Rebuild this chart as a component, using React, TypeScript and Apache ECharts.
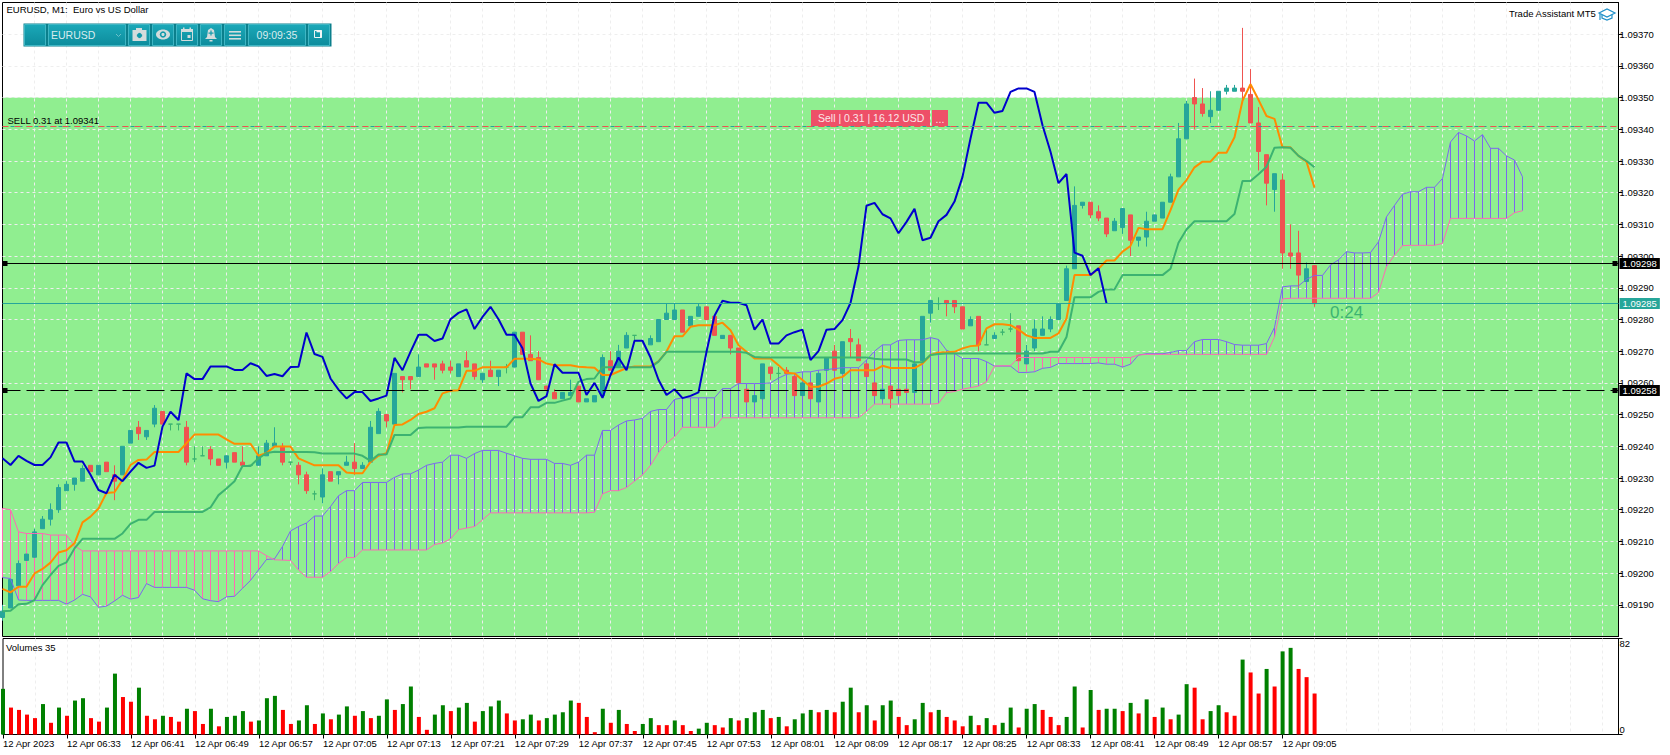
import React, { useEffect, useRef } from "react";
import * as echarts from "echarts";

// All prices are written in points above 1.09000 (1 point = 0.00001).
const tickLabels = [
  "12 Apr 2023", "12 Apr 06:33", "12 Apr 06:41", "12 Apr 06:49", "12 Apr 06:57", "12 Apr 07:05", "12 Apr 07:13",
  "12 Apr 07:21", "12 Apr 07:29", "12 Apr 07:37", "12 Apr 07:45", "12 Apr 07:53", "12 Apr 08:01", "12 Apr 08:09",
  "12 Apr 08:17", "12 Apr 08:25", "12 Apr 08:33", "12 Apr 08:41", "12 Apr 08:49", "12 Apr 08:57", "12 Apr 09:05",
];

const openPts = [
  186,189,196,204,205,214,217,220,226,228,
  229,234,231,235,231,231,241,246,243,247,
  251,247,247,246,236,237,239,236,235,238,
  235,234,234,237,240,240,235,234,231,225,
  224,232,231,234,235,233,235,244,250,247,
  262,262,262,266,266,266,265,262,267,266,
  261,264,262,265,265,276,269,268,259,257,
  255,256,259,254,254,256,267,265,271,275,
  265,272,273,280,280,283,278,281,284,281,
  274,275,271,258,254,255,265,263,264,262,
  256,260,254,264,270,263,274,272,266,260,
  255,259,258,258,257,267,282,285,286,286,
  284,278,281,272,274,276,277,278,266,271,
  275,277,280,286,296,316,317,314,312,308,
  309,313,305,306,311,312,317,325,337,350,
  348,344,346,352,352,353,351,342,332,321,
  324,301,301,292,297,
];
const closePts = [
  188,198,203,206,213,217,220,227,228,230,
  233,232,234,232,229,240,245,244,245,252,
  247,247,247,235,236,237,236,234,237,235,
  234,234,237,241,241,235,235,231,226,225,
  231,229,232,235,233,234,246,251,248,263,
  261,261,265,265,265,264,264,266,265,262,
  263,262,264,265,276,269,267,261,258,255,
  257,257,254,255,256,268,264,270,275,275,
  265,274,280,282,283,276,281,284,280,275,
  275,271,260,254,256,266,263,263,263,256,
  260,255,263,268,264,273,273,267,262,256,
  258,255,256,257,266,281,286,285,285,284,
  277,280,272,272,275,276,277,267,270,277,
  277,280,285,296,316,317,313,312,307,311,
  315,305,306,311,313,317,325,337,348,348,
  345,346,352,353,353,352,342,333,323,326,
  301,300,294,296,285,
];
const lowPts = [
  185,189,196,204,205,214,215,219,226,226,
  229,232,231,232,223,231,241,242,242,246,
  247,245,245,234,235,237,234,234,233,235,
  234,234,234,237,240,234,234,228,225,223,
  222,229,228,234,231,233,235,244,246,247,
  257,258,262,265,261,263,263,262,265,261,
  260,262,259,263,265,269,267,261,258,255,
  255,256,254,254,254,256,264,265,271,273,
  265,272,273,280,280,276,278,281,280,275,
  274,269,260,254,254,255,261,261,263,256,
  256,255,254,264,264,263,268,267,262,256,
  255,252,256,257,257,267,279,283,281,282,
  277,278,270,272,274,275,276,267,266,270,
  275,276,280,286,296,315,312,311,306,308,
  307,300,303,303,311,312,317,325,337,340,
  344,342,346,351,352,349,342,327,316,314,
  296,296,290,292,284,
];
const highPts = [
  190,198,204,206,214,218,222,228,229,230,
  234,234,234,235,234,240,245,248,245,253,
  251,247,247,248,240,240,240,236,237,238,
  240,234,240,242,246,241,235,235,232,226,
  233,232,232,237,241,235,248,252,250,263,
  262,262,269,266,266,267,267,266,270,266,
  263,267,264,266,276,276,275,270,259,258,
  257,261,259,255,256,269,270,272,276,275,
  265,275,280,285,285,283,281,285,284,281,
  275,275,271,258,256,266,265,265,265,262,
  260,260,263,268,272,273,277,274,266,260,
  258,259,258,258,266,281,286,287,286,286,
  284,281,281,277,276,277,282,278,272,280,
  281,281,285,297,322,317,317,316,312,312,
  315,313,306,314,313,317,326,342,349,356,
  353,352,352,354,354,372,359,347,332,326,
  326,310,308,298,297,
];
const tenkanPts = [
  195,193.9,195.7,195.7,199.9,201.3,203.3,206.5,207.2,209.4,
  216,217.8,220.4,225.3,225.5,229.4,234.1,235.7,235.8,238.2,
  238.2,238.2,238.2,241,243.7,243.7,243.7,243.7,242.2,240.8,
  240.8,240.8,237,237.9,239.9,239.9,239.9,236.2,235.1,234,
  234,234,234,231.7,231.5,231.5,235.1,237,237.8,246.7,
  246.9,248.3,250.2,250.9,252,256.7,257.5,257.7,263.8,263.8,
  264.9,264.9,264.9,264.9,267.6,267.6,267.6,267.4,266.1,265.6,
  265.6,265.6,265.1,264.9,264.8,262.5,262.5,263.6,264.7,265.2,
  265.2,265.2,266.8,269.9,274.7,274.7,277.7,278.2,278.2,278.2,
  279,276.6,271.9,269.8,267.7,267.7,267.7,265.6,263.2,263,
  260.9,258.8,258.8,259.8,261.3,261.9,264,264,264,264,
  265.4,264.7,264.7,264.7,264.7,266.1,268.8,269.6,269.7,269.8,
  270.9,271.6,271.8,277.2,278.5,278.5,278.2,276.8,275,274.2,
  274.2,274.2,275.6,280.3,294,294,294,296,298.6,298.6,
  301.4,303.2,308.9,308.5,308.5,308.5,314.5,321,324,328,
  329.8,329.8,332.6,332.6,337.5,349,354.2,349.3,344.2,343.3,
  334.3,334.3,331.6,329.8,321.6,
];
const kijunPts = [
  188,188.1,190.2,190.3,191.5,196.2,199.4,202.3,203.4,207.8,
  210.8,210.8,210.8,210.8,210.8,212.5,215.5,216.8,216.8,219.3,
  219.3,219.3,219.3,219.3,219.3,219.3,220.7,224.6,226.7,229,
  233.8,233.8,236.2,237.9,238.3,238.2,238.2,238.2,238.2,238.1,
  237.7,237.7,237.7,237.7,237.7,237,235.4,237.4,237.4,243.6,
  243.6,243.6,245.8,245.9,245.9,245.9,245.9,245.9,246.2,246.2,
  246.2,246.2,246.2,246.2,249.2,249.2,252.3,252.3,253.7,253.7,
  254.4,255.1,260.4,261.2,261.4,264.9,264.9,264.9,264.9,264.9,
  264.9,264.9,266.7,269.8,269.8,269.8,269.8,269.8,269.8,269.8,
  269.8,269.8,269.8,269.5,268.2,268,268,268,268,268,
  268,268,268,268,268,268,268,268,268,267.6,
  267.4,267.4,267.4,267.4,266.5,266.5,268.8,269.1,269.3,269.3,
  269.3,269.3,269.3,269.3,269.3,269.3,269.3,269.3,269.3,269.3,
  269.3,269.8,269.8,274.5,287,287,287,288.7,289.5,289.5,
  294,294,294,294,294,294,296,304.2,308.4,311,
  311,311,311,311,313.3,323.7,323.7,325.8,328.2,334.2,
  334.3,334.2,331.6,330,328,
];
const chikouPts = [
  236.2,234.1,237,235.4,234.1,234.1,236.5,241.2,241.2,235.2,
  235.2,231,226.2,225.2,231,229,232,234.8,233.2,233.9,
  246.2,250.9,248.3,263,261.2,261.2,265.2,265.2,265.2,264.1,
  264.1,266.2,265.2,262.2,262.8,262.1,265,265.1,275.9,269.1,
  268.2,261.4,257.9,255.1,257.1,257.1,254.3,255.1,256,267.9,
  264,269.8,275.2,275.2,273.2,274,280.1,282.1,283.2,277,
  280.8,284,280.1,275.2,275.2,270.9,259.8,254.3,255.8,265.9,
  263.2,263.2,263.2,256.2,260,255.3,262.5,268,264,273.3,
  273.3,268,261,256.2,258,255.2,255.9,257,269.8,281.2,
  285.9,285.3,285.3,284.5,276.8,280,272.4,272.4,275,276,
  276.8,267.2,270,276.8,277,279.8,285.2,296.7,315.9,316.8,
  313.2,311.9,307.2,310.8,314.9,305,305.8,311,313,317.2,
  325,337.1,348.4,348.4,345.2,345.8,351.8,352.9,352.9,351.8,
  341.3,332.9,323,325.9,301.1,300.1,294,296.2,285.1,
];
const senkouAPts = [
  198.6,198.3,191.5,191.4,191.4,191.4,191.4,191.4,190.2,191.5,
  193.3,192.5,189.2,189.6,191.2,193,191.8,192.3,196.7,195.5,
  195.5,195.5,195.5,195.5,194.6,191.9,191.3,191,192.5,192.7,
  195.2,197.7,201,204.3,204.5,208.4,213.3,214.7,215.8,218,
  218,221,224.4,226,226,228.6,228.6,228.6,228.6,230.2,
  231.3,231.3,232.5,234,234.6,235,237.2,237.2,236.2,237.7,
  238.7,238.7,238.7,237.8,237,236.2,235.9,235.9,235.9,234.6,
  234.6,234,235,237.2,237.2,245,245,246.7,248,248.3,
  248.8,251,251.6,251.6,254.8,255.3,255.3,255.3,255.3,255.3,
  258.2,258.2,259.8,259.8,259.8,259.8,260,261.5,262.7,263,
  263.5,263.5,264,264.2,264.5,264.8,264.8,264.8,267.2,270,
  272,272,273.4,273.6,273.6,273.6,274.3,273.7,270.3,269.3,
  267.7,267.7,267.7,266.7,265.3,265.3,265.3,263.3,263.3,263.5,
  264.6,264.9,266.1,266.1,266.1,266.1,266.1,266.3,265.9,265.9,
  265,265.9,268.8,269.2,269.2,269.2,269.6,270.2,270.2,273,
  273.7,273.7,273.7,273,272.1,271.9,271.9,271.9,272.4,277.5,
  290.3,290.6,290.6,292.7,293.9,293.9,297.2,298.8,301.4,301,
  301,301.1,304.5,312.4,316,319.5,320.3,320.3,321.7,321.7,
  324.5,336,339,337.9,336.3,338.3,334,334,331.6,330.3,
  325,
];
const senkouBPts = [
  220.4,220,213,212.5,212.5,212.5,212,212,212,208.6,
  207,207,207,207,207,207,207,207,207,207,
  207,207,207,207,207,207,207,207,207,207,
  207,207,207,205.5,204.2,204.1,204,201,198.7,198.7,
  198.7,200.5,203,204.9,204.9,207.3,207.3,207.3,207.3,207.3,
  207.3,207.3,207.3,207.3,209,209.5,210.8,213.7,214.2,214.7,
  216.8,219,219,219,219,219,219,219,219,219,
  219,219,219,219,219.2,225,226,226,227,229,
  231,234,238,241,243,246,246,246,246,246,
  249,249,249,249,249,249,249,249,249,249,
  249,249,249,249,249,249,249,249,251,253.3,
  253.3,253.3,253.3,253.3,253.3,253.3,253.3,253.5,256.9,257.3,
  258,258.5,259,260.4,265.3,265.4,265.4,268,268,268,
  268,268,268,268,268,268,268,268,268,268,
  268,268,268.8,269,269,269,269,269,269,269,
  269,269,269,269,269,269,269,269,269,274.5,
  286.5,286.7,286.7,286.7,286.7,286.7,286.7,286.7,286.7,286.7,
  286.7,286.7,288.5,296.7,300.3,303.3,303.4,303.4,303.4,303.4,
  304,311.9,311.9,311.9,311.9,311.9,311.9,311.9,311.9,313.7,
  314.3,
];
const volumes = [
  39,23,21,17,14,26,10,23,16,29,
  31,14,11,23,52,32,28,40,16,13,
  16,15,11,22,20,9,22,7,15,16,
  20,11,12,31,33,21,9,12,25,9,
  18,13,17,24,16,20,14,16,30,21,
  26,41,15,4,17,25,20,23,27,11,
  20,24,29,18,12,13,17,12,14,17,
  19,29,27,15,2,22,10,21,9,3,
  9,14,8,8,12,8,3,5,10,8,
  6,14,12,14,19,21,14,15,7,13,
  18,21,19,21,19,28,40,19,25,12,
  25,29,15,8,13,27,19,21,15,12,
  7,16,8,14,8,10,23,6,22,26,
  21,15,8,15,41,6,38,21,22,22,
  20,27,18,30,15,23,13,17,43,40,
  13,20,25,19,16,64,53,35,56,41,
  71,74,56,49,35,
];
const volumeDirs = (
  "GRRRRGRGRG" + "GRRGGRRGRR" + "GRRGRRGRGG" + "GRGGGRRGGR" + "GRGGRGRGGR" + "GGRRGGRGGR" +
  "GGGRRGGRGG" + "GGRRRGRGRR" + "GGRRGRRGGR" + "RGRGGGRGRG" + "GGRGRGGRGR" + "GGRRGGRGRR" +
  "RGRGRGGRGG" + "RRRGGRGRGG" + "RGRGRGRGGR" + "RGGRRGRRGR" + "GGRRR"
).split("");

const sellPts = 340.88;
const blackSolidPts = 297.66;
const blackDashedPts = 257.6;
const lastPts = 285.05;
const cloudFloorPts = 180;
const cloudTopPts = 350;
const priceMinPts = 180;
const priceMaxPts = 380;
const slotCount = 203;

const FONT = '"Liberation Sans", Arial, sans-serif';
const toPrice = (p: number) => +(1.09 + p / 100000).toFixed(7);

export default function App() {
  const ref = useRef<HTMLDivElement>(null);
  useEffect(() => {
    const chart = echarts.init(ref.current!, undefined, { renderer: "svg", width: 1670, height: 755 });
    const slots = Array.from({ length: slotCount }, (_, i) => (i % 8 === 0 && tickLabels[i / 8]) || "");
    const isDash = (i: number) => i % 4 === 0 && i > 0 && i < slotCount - 1;
    const gridLine = { show: true, interval: (i: number) => isDash(i), lineStyle: { color: "#eeeeee", type: [3, 3] as any, width: 1 } };
    const levelLine = (pts: number, color: string, type: any, label?: any, width = 1) => ({
      yAxis: toPrice(pts),
      lineStyle: { color, type, width },
      label: label
        ? { show: true, position: "end", distance: 1, formatter: toPrice(Math.round(pts)).toFixed(5), color: "#fff", backgroundColor: label, padding: [1, 3, 0, 3], fontFamily: FONT, fontSize: 9.5, lineHeight: 10 }
        : { show: false },
    });

    chart.setOption({
      animation: false,
      backgroundColor: "#ffffff",
      textStyle: { fontFamily: FONT },
      grid: [
        { left: 2.5, top: 2.5, width: (slotCount - 1) * 8, height: 634, show: true, borderColor: "#000", borderWidth: 1, backgroundColor: "transparent" },
        { left: 2.5, top: 638.5, width: (slotCount - 1) * 8, height: 96, show: true, borderColor: "#000", borderWidth: 1, backgroundColor: "transparent" },
      ],
      xAxis: [
        { type: "category", gridIndex: 0, data: slots, boundaryGap: false, axisLine: { show: false }, axisTick: { show: false }, axisLabel: { show: false }, splitLine: gridLine },
        {
          type: "category", gridIndex: 1, data: slots, boundaryGap: false,
          axisLine: { show: true, lineStyle: { color: "#000" } },
          axisTick: { show: true, interval: (i: number) => i % 8 === 0 && i <= 160, length: 4, lineStyle: { color: "#000" } },
          axisLabel: { show: true, interval: (i: number) => i % 8 === 0 && i <= 160, align: "left", margin: 4, color: "#000", fontFamily: FONT, fontSize: 9.5 },
          splitLine: gridLine,
        },
      ],
      yAxis: [
        {
          type: "value", gridIndex: 0, position: "right", min: toPrice(priceMinPts), max: toPrice(priceMaxPts), interval: 0.0001, scale: true,
          axisLine: { show: true, lineStyle: { color: "#000" } },
          axisTick: { show: true, length: 4, lineStyle: { color: "#000" } },
          axisLabel: { show: true, margin: 1, color: "#000", fontFamily: FONT, fontSize: 9.5, showMinLabel: false, showMaxLabel: false, formatter: (v: number) => v.toFixed(5) },
          splitLine: { show: true, showMinLine: false, showMaxLine: false, lineStyle: { color: "#eeeeee", type: [3, 3] as any, width: 1 } },
        },
        {
          type: "value", gridIndex: 1, position: "right", min: 0, max: 82, interval: 82,
          axisLine: { show: true, lineStyle: { color: "#000" } },
          axisTick: { show: true, length: 4, lineStyle: { color: "#000" } },
          axisLabel: { show: true, margin: 1, color: "#000", fontFamily: FONT, fontSize: 9.5, verticalAlignMinLabel: "bottom", verticalAlignMaxLabel: "top" },
          splitLine: { show: false },
        },
      ],
      series: [
        {
          type: "candlestick", name: "EURUSD", xAxisIndex: 0, yAxisIndex: 0, barWidth: 5, clip: true,
          data: openPts.map((o, i) => [toPrice(o), toPrice(closePts[i]), toPrice(lowPts[i]), toPrice(highPts[i])]),
          itemStyle: { color: "#26a69a", color0: "#ef5350", borderColor: "#26a69a", borderColor0: "#ef5350", borderColorDoji: "#3cb371", borderWidth: 1 },
          markArea: {
            silent: true, z: -1, itemStyle: { color: "#90ee90", opacity: 1 },
            data: [[{ yAxis: toPrice(cloudTopPts) }, { yAxis: toPrice(cloudFloorPts) }]],
          },
        },
        {
          type: "custom", name: "Cloud hatch", xAxisIndex: 0, yAxisIndex: 0, silent: true, encode: { x: 0, y: [1, 2] },
          data: senkouAPts.map((a, i) => [i, toPrice(a), toPrice(senkouBPts[i])]),
          renderItem: (_: any, api: any) => {
            const top = api.coord([api.value(0), api.value(1)]);
            const bot = api.coord([api.value(0), api.value(2)]);
            const x = Math.floor(top[0]) + 0.5;
            return {
              type: "line",
              shape: { x1: x, y1: top[1], x2: x, y2: bot[1] },
              style: { stroke: api.value(1) > api.value(2) ? "#7b68ee" : "#ff69b4", lineWidth: 1 },
            };
          },
        },
        { type: "line", name: "Senkou Span A", data: senkouAPts.map(toPrice), showSymbol: false, lineStyle: { color: "#7b68ee", width: 1 }, xAxisIndex: 0, yAxisIndex: 0 },
        { type: "line", name: "Senkou Span B", data: senkouBPts.map(toPrice), showSymbol: false, lineStyle: { color: "#ff69b4", width: 1 }, xAxisIndex: 0, yAxisIndex: 0 },
        { type: "line", name: "Tenkan-sen", data: tenkanPts.map(toPrice), showSymbol: false, lineStyle: { color: "#ff8c00", width: 2 }, xAxisIndex: 0, yAxisIndex: 0 },
        { type: "line", name: "Kijun-sen", data: kijunPts.map(toPrice), showSymbol: false, lineStyle: { color: "#3cb371", width: 2 }, xAxisIndex: 0, yAxisIndex: 0 },
        { type: "line", name: "Chikou Span", data: chikouPts.map(toPrice), showSymbol: false, lineStyle: { color: "#0000cd", width: 2 }, xAxisIndex: 0, yAxisIndex: 0 },
        {
          type: "line", name: "Levels", data: [], xAxisIndex: 0, yAxisIndex: 0, z: 5,
          markLine: {
            silent: true, symbol: "none", animation: false, precision: 7,
            data: [
              levelLine(sellPts, "#26a69a", [4, 4]),
              levelLine(sellPts, "#ef5350", [6, 6]),
              levelLine(blackSolidPts, "#000000", "solid", "#000000"),
              levelLine(blackDashedPts, "#000000", [18, 6], "#000000"),
              levelLine(lastPts, "#26a69a", "solid", "#26a69a"),
            ],
          },
        },
        {
          type: "bar", name: "Volumes", xAxisIndex: 1, yAxisIndex: 1, barWidth: 4,
          data: volumes.map((v, i) => ({ value: v, itemStyle: { color: volumeDirs[i] === "G" ? "#008000" : "#ff0000" } })),
        },
      ],
    });

    const py = (pts: number) => chart.convertToPixel({ yAxisIndex: 0 }, toPrice(pts)) as number;
    const Z = 100;
    const txt = (text: string, x: number, y: number, fontSize: number, fill = "#000", align = "left") => ({
      type: "text", z: Z, silent: true, style: { text, x, y, fill, fontSize, fontFamily: FONT, align, verticalAlign: "middle" },
    });
    const box = (x: number, y: number, width: number, height: number, fill: any, stroke?: string) => ({
      type: "rect", z: Z, silent: true, shape: { x, y, width, height }, style: { fill, stroke, lineWidth: stroke ? 1 : 0 },
    });
    const grad = new echarts.graphic.LinearGradient(0, 0, 0, 1, [
      { offset: 0, color: "#1ba8b8" }, { offset: 1, color: "#0d8c9c" },
    ]);
    const segs: [number, number][] = [[24, 22], [48, 78], [128, 22], [152, 22], [176, 22], [200, 22], [224, 22], [248, 58], [308, 22]];
    const ic = "#d4dcdc";
    const elements: any[] = [
      txt("EURUSD, M1:  Euro vs US Dollar", 6.5, 9.5, 9.5),
      txt("Trade Assistant MT5", 1509, 13.5, 9.5),
      { type: "polygon", z: Z, silent: true, shape: { points: [[1599, 13], [1607, 9], [1615, 13], [1607, 17]] }, style: { fill: "#fff", stroke: "#1e8fc8", lineWidth: 1.2 } },
      { type: "polyline", z: Z, silent: true, shape: { points: [[1602, 15], [1602, 18], [1607, 20], [1612, 18], [1612, 15]] }, style: { fill: "none", stroke: "#1e8fc8", lineWidth: 1.2 } },
      { type: "line", z: Z, silent: true, shape: { x1: 1600, y1: 14, x2: 1600, y2: 20 }, style: { stroke: "#1e8fc8", lineWidth: 1.2 } },

      box(23.5, 23.5, 308, 23, "#0b7f8c"),
      ...segs.map(([x, w]) => box(x + 0.5, 24.5, w - 1, 21, grad, "#3fb6c4")),
      txt("EURUSD", 51, 34.5, 10.5, "#d8ecee"),
      { type: "polyline", z: Z, silent: true, shape: { points: [[116, 34], [118.5, 36.5], [121, 34]] }, style: { fill: "none", stroke: "#6cc0ca", lineWidth: 1 } },
      // camera
      box(132.5, 30, 14, 11, ic),
      box(136, 28, 6, 3, ic),
      { type: "circle", z: Z + 1, silent: true, shape: { cx: 139.5, cy: 35.5, r: 3 }, style: { fill: "#129aaa", stroke: ic, lineWidth: 1 } },
      // eye
      { type: "ellipse", z: Z, silent: true, shape: { cx: 163, cy: 34.5, rx: 7, ry: 5 }, style: { fill: ic } },
      { type: "circle", z: Z + 1, silent: true, shape: { cx: 163, cy: 34.5, r: 3.2 }, style: { fill: "#129aaa" } },
      { type: "circle", z: Z + 2, silent: true, shape: { cx: 163, cy: 34.5, r: 1.6 }, style: { fill: ic } },
      // calendar
      box(181.5, 29.5, 11, 11, "none", ic),
      box(181, 29, 12, 3, ic),
      box(183, 27.5, 1.5, 2, ic),
      box(189.5, 27.5, 1.5, 2, ic),
      box(187.5, 35, 3, 3, ic),
      // bell
      { type: "polygon", z: Z, silent: true, shape: { points: [[211, 28], [214, 30], [215, 37], [217, 39], [205, 39], [207, 37], [208, 30]] }, style: { fill: ic } },
      box(209.5, 40, 3, 1.5, ic),
      box(208.5, 32.5, 5, 1.2, "#129aaa"),
      box(210.4, 30.6, 1.2, 5, "#129aaa"),
      // menu
      box(229, 31, 12, 1.6, ic),
      box(229, 34.5, 12, 1.6, ic),
      box(229, 38, 12, 1.6, ic),
      txt("09:09:35", 277, 34.5, 10.5, "#d8ecee", "center"),
      // window
      box(314.5, 30.5, 7, 7, "none", "#f0f6f6"),
      box(316.5, 30.5, 5, 1.8, "#f0f6f6"),
      box(320, 30.5, 1.8, 7, "#f0f6f6"),

      txt("SELL 0.31 at 1.09341", 7.5, 120.5, 9.5),
      box(811, 110, 119, 16, "#ee4f68"),
      box(932, 110, 16, 16, "#ee4f68"),
      txt("Sell | 0.31 | 16.12 USD", 818, 118, 10.5, "#fbe6e9"),
      txt("...", 940, 118.5, 10.5, "#fbe6e9", "center"),
      txt("0:24", 1330, 312, 17, "#3cb371"),
      txt("Volumes 35", 6, 647, 9.5),
      box(2.5, py(blackSolidPts) - 2.5, 5, 5, "#000"),
      box(2.5, py(blackDashedPts) - 2.5, 5, 5, "#000"),
      box(1612.5, py(blackSolidPts) - 2.5, 5, 5, "#000"),
      box(1612.5, py(blackDashedPts) - 2.5, 5, 5, "#000"),
    ];
    chart.setOption({ graphic: { elements } });
    return () => chart.dispose();
  }, []);
  return <div ref={ref} style={{ position: "absolute", left: 0, top: 0, width: 1670, height: 755 }} />;
}
